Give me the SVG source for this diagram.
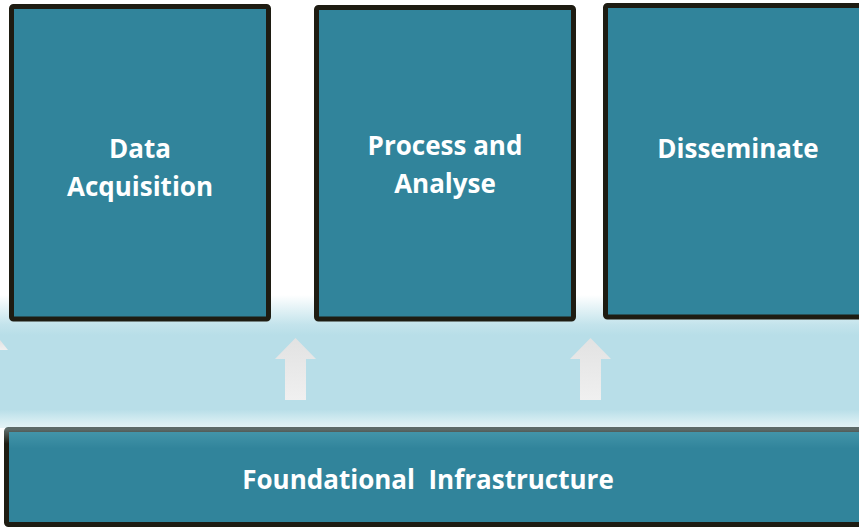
<svg xmlns="http://www.w3.org/2000/svg" width="859" height="528" viewBox="0 0 859 528">
<defs>
<linearGradient id="band" x1="0" y1="0" x2="0" y2="1">
<stop offset="0" stop-color="#ffffff"/>
<stop offset="0.22" stop-color="#c4e4ec"/>
<stop offset="0.3" stop-color="#b8dee8"/>
<stop offset="0.86" stop-color="#b8dee8"/>
<stop offset="0.95" stop-color="#d6edf2"/>
<stop offset="1" stop-color="#e4f3f6"/>
</linearGradient>
<linearGradient id="arrowg" x1="0" y1="0" x2="0" y2="1">
<stop offset="0" stop-color="#e2e2e2"/>
<stop offset="1" stop-color="#f0f0f0"/>
</linearGradient>
<linearGradient id="basefill" x1="0" y1="0" x2="0" y2="1">
<stop offset="0" stop-color="#4597ab"/>
<stop offset="0.2" stop-color="#31849b"/>
<stop offset="1" stop-color="#31849b"/>
</linearGradient>
<linearGradient id="basestroke" x1="0" y1="0" x2="0" y2="1">
<stop offset="0" stop-color="#5c6a68"/>
<stop offset="0.15" stop-color="#1e1c12"/>
<stop offset="1" stop-color="#1e1c12"/>
</linearGradient>
</defs>
<style>
.box{fill:#31849b;stroke:#1e1c12;stroke-width:5;}
.lbl{font-family:"Open Sans","Liberation Sans",sans-serif;font-weight:bold;font-size:26px;fill:#ffffff;text-anchor:middle;}
.arr{fill:url(#arrowg);}
</style>
<rect x="0" y="295" width="859" height="133" fill="url(#band)"/>
<g id="connectors">
<polygon class="arr" points="0,340 8,350 0,350"/>
<polygon class="arr" points="295.5,338 316,359 306,359 306,400 285,400 285,359 275,359"/>
<polygon class="arr" points="590.5,338 611,359 601,359 601,400 580,400 580,359 570,359"/>
</g>
<g id="data-acquisition">
<rect class="box" x="11.5" y="6.5" width="257" height="312.5" rx="2"/>
<text class="lbl" x="140" y="158">Data</text>
<text class="lbl" x="140" y="196">Acquisition</text>
</g>
<g id="process-analyse">
<rect class="box" x="316.5" y="7.5" width="257" height="311.5" rx="2"/>
<text class="lbl" x="445" y="155">Process and</text>
<text class="lbl" x="445" y="193">Analyse</text>
</g>
<g id="disseminate">
<rect class="box" x="605.5" y="5.5" width="270" height="311.5" rx="2"/>
<text class="lbl" x="738" y="158">Disseminate</text>
</g>
<g id="foundational-infrastructure">
<rect x="6.5" y="429.5" width="870" height="95" rx="2" fill="url(#basefill)" stroke="url(#basestroke)" stroke-width="5"/>
<text class="lbl" x="428" y="489" xml:space="preserve" style="white-space:pre">Foundational  Infrastructure</text>
</g>
</svg>
